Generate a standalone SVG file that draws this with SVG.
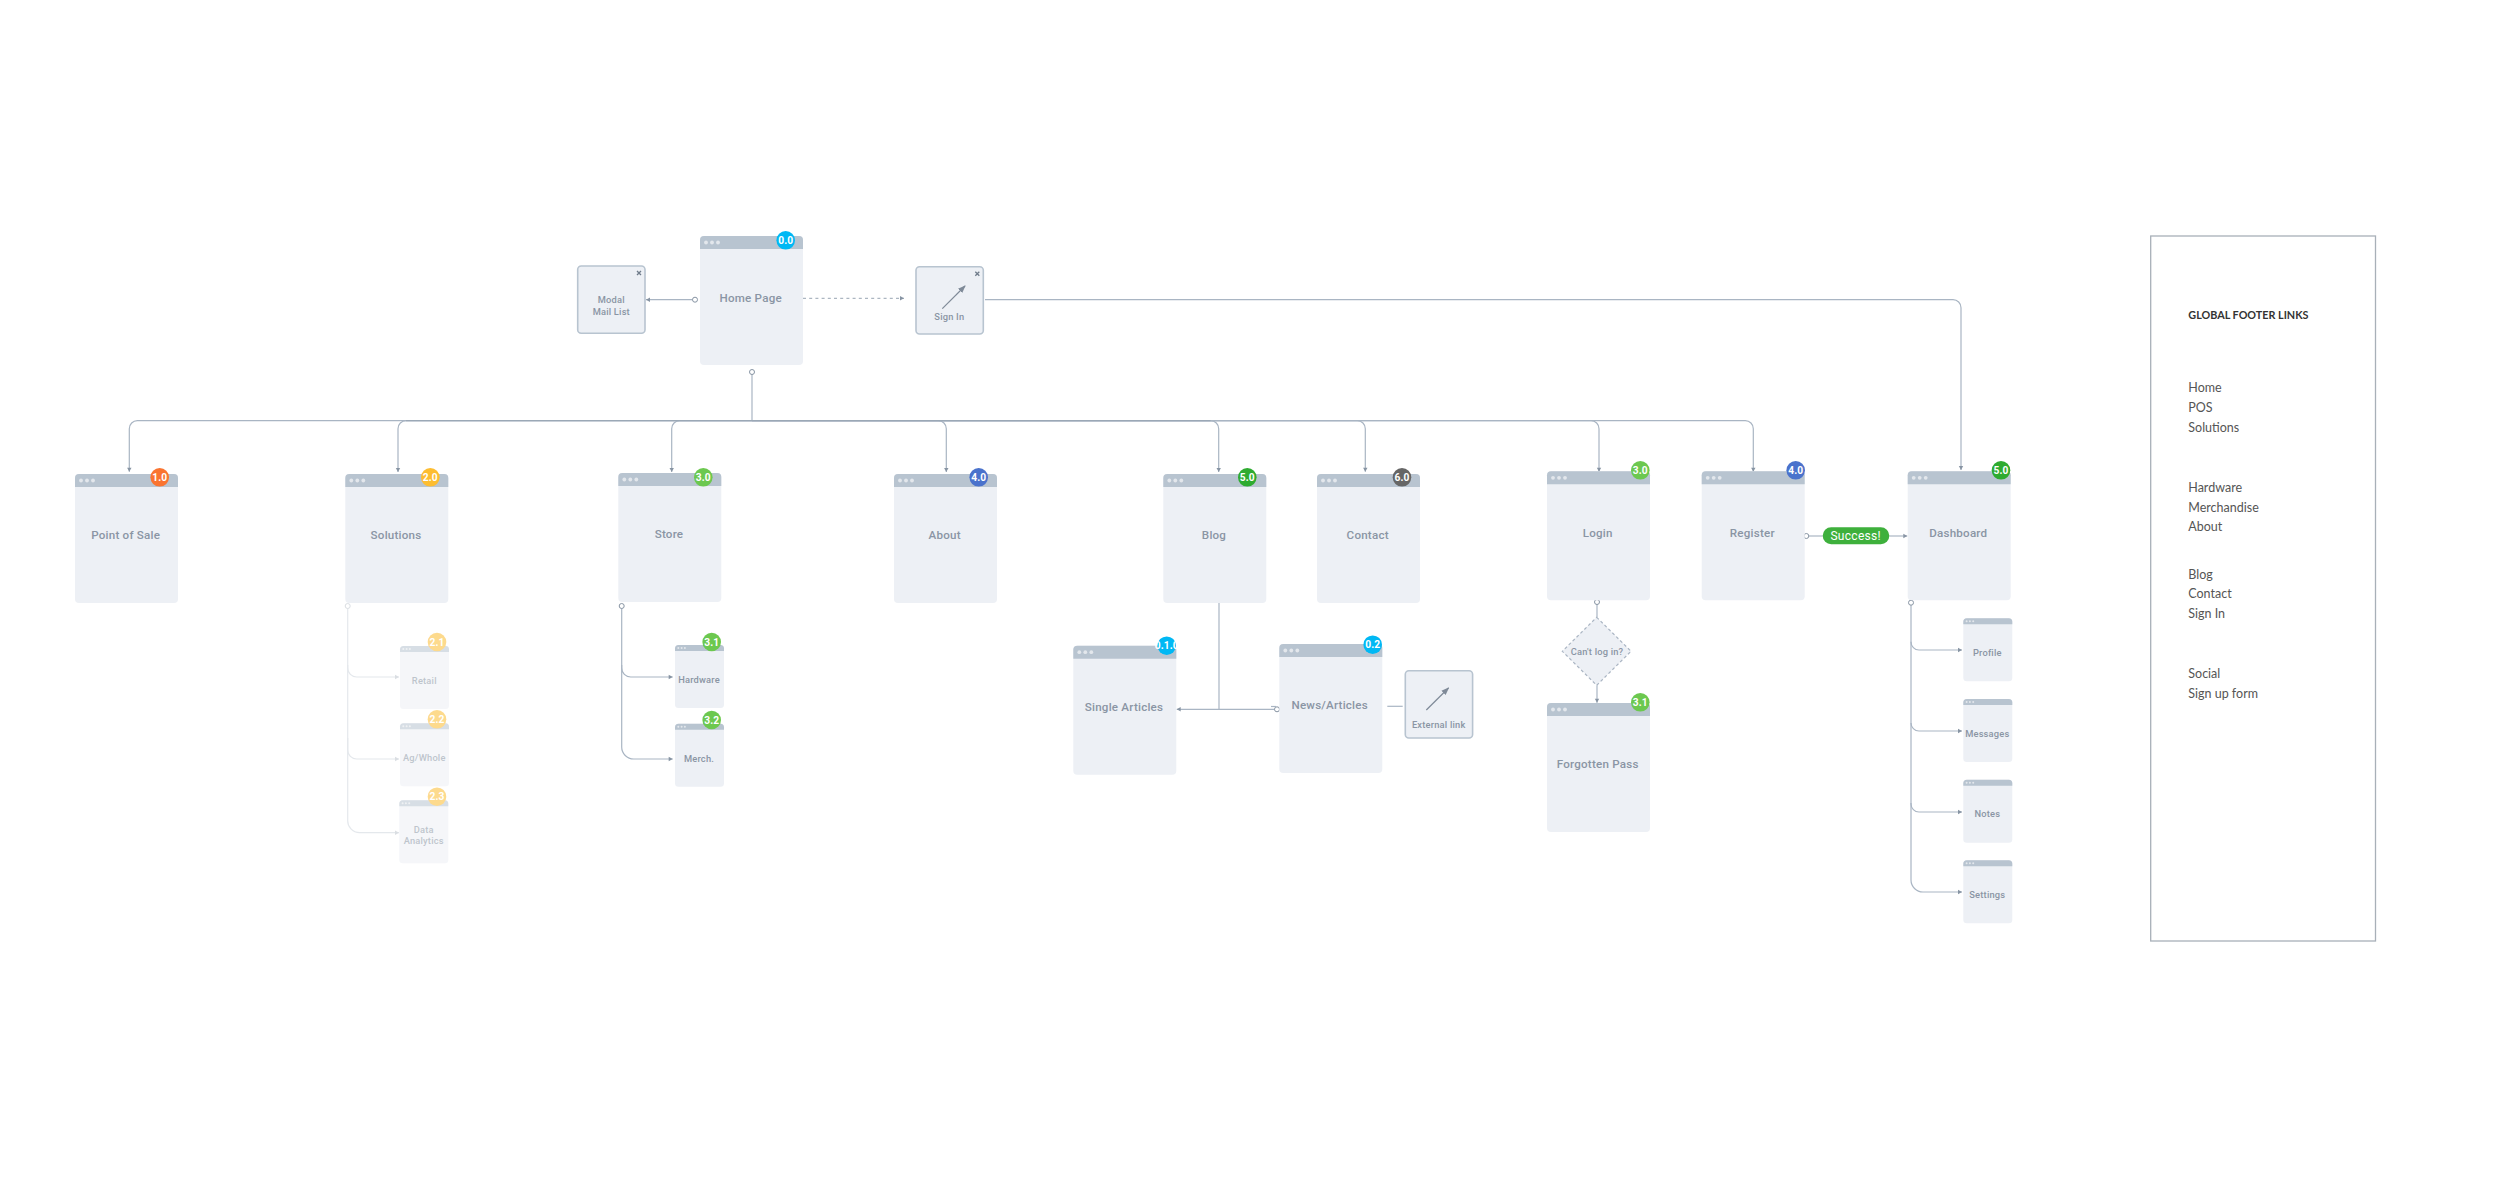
<svg xmlns="http://www.w3.org/2000/svg" width="2500" height="1186" viewBox="0 0 2500 1186">
<style>
text{font-family:Roboto,"Liberation Sans",sans-serif;font-weight:500;fill:#8a95a4;text-anchor:middle}
.lg{font-size:11.6px;letter-spacing:.22px}
.md{font-size:9.3px;letter-spacing:.2px}
.bd{font-size:10.2px;fill:#fff;font-weight:700;letter-spacing:.1px}
.co{fill:none;stroke:#a9b5c3;stroke-width:1.2}
.tr{stroke:#9ba8b6;stroke-width:1.3}
.cd{stroke-dasharray:3 3.2;stroke:#98a4b2;stroke-width:1}
.box{fill:#edf0f5;stroke:#b8c4d0;stroke-width:1.6}
.ar{stroke:#7f8a98;stroke-width:1.2;fill:none}
.x{stroke:#6f7b8a;stroke-width:1.3;fill:none}
.fn{opacity:.55}
.fc{opacity:.3}
.ft{font-family:Lato,"Noto Sans",sans-serif;font-weight:400;font-size:12.5px;fill:#555;text-anchor:start}
</style>
<defs>
<g id="page"><rect width="103" height="129" rx="4" fill="#edf0f5"/><path d="M0 13V4a4 4 0 0 1 4-4H99a4 4 0 0 1 4 4V13Z" fill="#b8c4d0"/><circle cx="6" cy="6.5" r="1.9" fill="#e3e7ec"/><circle cx="12" cy="6.5" r="1.9" fill="#e3e7ec"/><circle cx="18" cy="6.5" r="1.9" fill="#e3e7ec"/></g>
<g id="sub"><rect width="49" height="63" rx="3.5" fill="#edf0f5"/><path d="M0 6V3.5a3.5 3.5 0 0 1 3.5-3.5H45.5a3.5 3.5 0 0 1 3.5 3.5V6Z" fill="#b8c4d0"/><circle cx="3.3" cy="3" r="1" fill="#e3e7ec"/><circle cx="6.6" cy="3" r="1" fill="#e3e7ec"/><circle cx="9.9" cy="3" r="1" fill="#e3e7ec"/></g>
<marker id="a" markerUnits="userSpaceOnUse" markerWidth="6" markerHeight="6" refX="5" refY="3" orient="auto" viewBox="0 0 6 6"><path d="M1 .8L5 3L1 5.2Z" fill="#8794a3"/></marker>
<marker id="c" markerUnits="userSpaceOnUse" markerWidth="8" markerHeight="8" refX="4" refY="4" viewBox="0 0 8 8"><circle cx="4" cy="4" r="2.5" fill="#fff" stroke="#8794a3" stroke-width="1"/></marker>
<marker id="big" markerUnits="userSpaceOnUse" markerWidth="8" markerHeight="8" refX="7" refY="4" orient="auto" viewBox="0 0 8 8"><path d="M0 1L8 4L0 7Z" fill="#7f8a98"/></marker>
</defs>
<g id="connectors">
<path class="co" d="M752 420.7V372" marker-end="url(#c)"/>
<g class="co" marker-end="url(#a)">
<path d="M752 420.7H137.3a8 8 0 0 0-8 8V471.7"/>
<path d="M752 420.7H406a8 8 0 0 0-8 8V472"/>
<path d="M752 420.7H679.7a8 8 0 0 0-8 8V472"/>
<path d="M752 420.7H938.3a8 8 0 0 1 8 8V472"/>
<path d="M752 420.7H1210.7a8 8 0 0 1 8 8V472"/>
<path d="M752 420.7H1357.3a8 8 0 0 1 8 8V471.7"/>
<path d="M752 420.7H1591a8 8 0 0 1 8 8V471.7"/>
<path d="M752 420.7H1745.3a8 8 0 0 1 8 8V471.7"/>
</g>
<path class="co tr" d="M406 420.7H1210.7"/>
<path class="co" d="M985 299.7H1953a8 8 0 0 1 8 8V470" marker-end="url(#a)"/>
<path class="co" d="M695 299.7H646" marker-start="url(#c)" marker-end="url(#a)"/>
<path class="co cd" d="M803 298.3H904" marker-end="url(#a)"/>
<g class="fc">
<path class="co" d="M347.7 606V820a12 12 0 0 0 12 12.7H399" marker-start="url(#c)" marker-end="url(#a)"/>
<path class="co" d="M347.7 665V668a9 9 0 0 0 9 9H399" marker-end="url(#a)"/>
<path class="co" d="M347.7 738V750a9 9 0 0 0 9 9H399" marker-end="url(#a)"/>
</g>
<path class="co" d="M621.7 606V747a12 12 0 0 0 12 12H672.7" marker-start="url(#c)" marker-end="url(#a)"/>
<path class="co" d="M621.7 665V668a9 9 0 0 0 9 9H672.7" marker-end="url(#a)"/>
<path class="co" d="M1219 602.7V709.3"/>
<path class="co" d="M1277 709.3H1176.7" marker-start="url(#c)" marker-end="url(#a)"/>
<path class="co" d="M1271 706.5H1276"/>
<path class="co" d="M1387.3 706.3H1402.7"/>
<path class="co" d="M1597 602V617.3" marker-start="url(#c)"/>
<path class="co" d="M1597 685.3V702.7" marker-end="url(#a)"/>
<path class="co" d="M1806.3 536H1822.7" marker-start="url(#c)"/>
<path class="co" d="M1889.3 536H1907.3" marker-end="url(#a)"/>
<path class="co" d="M1911 602.7V880a12 12 0 0 0 12 12H1962" marker-start="url(#c)" marker-end="url(#a)"/>
<path class="co" d="M1911 641.7V642a8 8 0 0 0 8 8H1962" marker-end="url(#a)"/>
<path class="co" d="M1911 723a8 8 0 0 0 8 8H1962" marker-end="url(#a)"/>
<path class="co" d="M1911 803V804a8 8 0 0 0 8 8H1962" marker-end="url(#a)"/>
</g>
<g id="home"><use href="#page" x="700" y="236"/><circle cx="785.7" cy="240.3" r="9.3" fill="#00b8f4"/><text class="bd" x="785.7" y="244">0.0</text><text class="lg" x="750.7" y="301.7">Home Page</text></g>
<g id="modal"><rect class="box" x="577.7" y="266" width="67.3" height="67.3" rx="3.5"/><path class="x" d="M637 271L641 275M641 271L637 275"/><text class="md" x="611.3" y="303">Modal</text><text class="md" x="611.3" y="314.7">Mail List</text></g>
<g id="signin"><rect class="box" x="916" y="266.7" width="67.3" height="67.3" rx="3.5"/><path class="x" d="M975.3 271.7L979.3 275.7M979.3 271.7L975.3 275.7"/><path class="ar" d="M942.3 308.7L965 286" marker-end="url(#big)"/><text class="md" x="949.3" y="320.3">Sign In</text></g>
<g id="pos"><use href="#page" x="75" y="474"/><circle cx="159.7" cy="477.3" r="9.3" fill="#fa7430"/><text class="bd" x="159.7" y="481">1.0</text><text class="lg" x="125.7" y="539">Point of Sale</text></g>
<g id="solutions"><use href="#page" x="345.3" y="474"/><circle cx="430.3" cy="477.3" r="9.3" fill="#fdbd31"/><text class="bd" x="430.3" y="481">2.0</text><text class="lg" x="396" y="539">Solutions</text></g>
<g id="retail" class="fn"><use href="#sub" x="400" y="646"/><circle cx="437" cy="642" r="9.3" fill="#fdbd31"/><text class="bd" x="437" y="645.7">2.1</text><text class="md" x="424.3" y="683.7">Retail</text></g>
<g id="agwhole" class="fn"><use href="#sub" x="400" y="723.3"/><circle cx="437" cy="719.3" r="9.3" fill="#fdbd31"/><text class="bd" x="437" y="723">2.2</text><text class="md" x="424.3" y="761">Ag/Whole</text></g>
<g id="data" class="fn"><use href="#sub" x="399.3" y="800.3"/><circle cx="437" cy="796.7" r="9.3" fill="#fdbd31"/><text class="bd" x="437" y="800.4">2.3</text><text class="md" x="423.7" y="832.7">Data</text><text class="md" x="423.7" y="844">Analytics</text></g>
<g id="store"><use href="#page" x="618.3" y="473"/><circle cx="703.3" cy="477.3" r="9.3" fill="#6cc84f"/><text class="bd" x="703.3" y="481">3.0</text><text class="lg" x="669" y="538.3">Store</text></g>
<g id="hardware"><use href="#sub" x="675" y="645"/><circle cx="711.7" cy="642" r="9.3" fill="#6cc84f"/><text class="bd" x="711.7" y="645.7">3.1</text><text class="md" x="699" y="682.7">Hardware</text></g>
<g id="merch"><use href="#sub" x="675" y="723.7"/><circle cx="711.7" cy="720" r="9.3" fill="#6cc84f"/><text class="bd" x="711.7" y="723.7">3.2</text><text class="md" x="699" y="761.7">Merch.</text></g>
<g id="about"><use href="#page" x="894" y="474"/><circle cx="978.7" cy="477.3" r="9.3" fill="#4a72cc"/><text class="bd" x="978.7" y="481">4.0</text><text class="lg" x="944.7" y="539">About</text></g>
<g id="blog"><use href="#page" x="1163.3" y="474"/><circle cx="1247.3" cy="477.3" r="9.3" fill="#2eab30"/><text class="bd" x="1247.3" y="481">5.0</text><text class="lg" x="1214" y="539.3">Blog</text></g>
<g id="contact"><use href="#page" x="1317" y="474"/><circle cx="1402" cy="477.3" r="9.3" fill="#666"/><text class="bd" x="1402" y="481">6.0</text><text class="lg" x="1367.7" y="539">Contact</text></g>
<g id="single"><use href="#page" x="1073.3" y="645.7"/><circle cx="1166.7" cy="645.7" r="9.3" fill="#00b8f4"/><text class="bd" x="1166.7" y="649.4">0.1.0</text><text class="lg" x="1124" y="710.7">Single Articles</text></g>
<g id="news"><use href="#page" x="1279.3" y="644"/><circle cx="1372.7" cy="644.7" r="9.3" fill="#00b8f4"/><text class="bd" x="1372.7" y="648.4">0.2</text><text class="lg" x="1329.7" y="709">News/Articles</text></g>
<g id="external"><rect class="box" x="1405.3" y="670.7" width="67.3" height="67.3" rx="3.5"/><path class="ar" d="M1426.3 710L1448.5 688" marker-end="url(#big)"/><text class="md" x="1438.7" y="728.3">External link</text></g>
<g id="login"><use href="#page" x="1547" y="471.3"/><circle cx="1640.3" cy="470.3" r="9.3" fill="#6cc84f"/><text class="bd" x="1640.3" y="474">3.0</text><text class="lg" x="1597.7" y="536.7">Login</text></g>
<g id="cant"><path d="M1596.7 617.3L1631 651.3L1596.7 685.3L1562.3 651.3Z" fill="#edf0f5" stroke="#aab5c3" stroke-width="1.2" stroke-dasharray="3 2.5"/><text class="md" x="1597" y="655.3">Can't log in?</text></g>
<g id="forgot"><use href="#page" x="1547" y="703"/><circle cx="1640.3" cy="702.3" r="9.3" fill="#6cc84f"/><text class="bd" x="1640.3" y="706">3.1</text><text class="lg" x="1597.7" y="768.3">Forgotten Pass</text></g>
<g id="register"><use href="#page" x="1701.7" y="471.3"/><circle cx="1795.7" cy="470.3" r="9.3" fill="#4a72cc"/><text class="bd" x="1795.7" y="474">4.0</text><text class="lg" x="1752.3" y="536.7">Register</text></g>
<g id="success"><rect x="1822.7" y="527.3" width="66.6" height="17" rx="8.5" fill="#3eb03c"/><text x="1855.7" y="540" style="fill:#fff;font-size:12px;font-weight:400;letter-spacing:.3px">Success!</text></g>
<g id="dashboard"><use href="#page" x="1907.7" y="471.3"/><circle cx="2001" cy="470.3" r="9.3" fill="#2eab30"/><text class="bd" x="2001" y="474">5.0</text><text class="lg" x="1958.3" y="536.7">Dashboard</text></g>
<g id="profile"><use href="#sub" x="1963.3" y="618.3"/><text class="md" x="1987.3" y="656.3">Profile</text></g>
<g id="messages"><use href="#sub" x="1963.3" y="699"/><text class="md" x="1987.3" y="737">Messages</text></g>
<g id="notes"><use href="#sub" x="1963.3" y="779.7"/><text class="md" x="1987.3" y="817.3">Notes</text></g>
<g id="settings"><use href="#sub" x="1963.3" y="860.3"/><text class="md" x="1987.3" y="898.3">Settings</text></g>
<g id="footer"><rect x="2150.7" y="236" width="224.8" height="705" fill="#fff" stroke="#a8b0b8" stroke-width="1.3"/>
<text class="ft" x="2188.3" y="319.3" style="font-weight:700;font-size:10.8px;fill:#333">GLOBAL FOOTER LINKS</text>
<text class="ft" x="2188.3" y="392.4">Home</text><text class="ft" x="2188.3" y="412">POS</text><text class="ft" x="2188.3" y="432">Solutions</text>
<text class="ft" x="2188.3" y="491.8">Hardware</text><text class="ft" x="2188.3" y="512">Merchandise</text><text class="ft" x="2188.3" y="531">About</text>
<text class="ft" x="2188.3" y="578.8">Blog</text><text class="ft" x="2188.3" y="598">Contact</text><text class="ft" x="2188.3" y="617.7">Sign In</text>
<text class="ft" x="2188.3" y="677.8">Social</text><text class="ft" x="2188.3" y="697.6">Sign up form</text></g>
</svg>
